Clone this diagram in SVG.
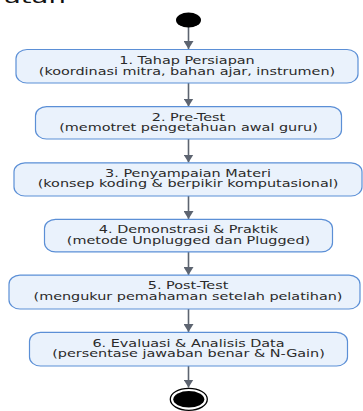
<svg xmlns="http://www.w3.org/2000/svg" width="363" height="411" viewBox="0 0 363 411">
<style>
.box{fill:#eaf2fc;stroke:#5b8fd6;stroke-width:1.2}
.t{font-family:"DejaVu Sans",sans-serif;font-size:14.4px;fill:#2a2a2a;text-anchor:middle}
.c{stroke:#5d6470;stroke-width:1.6;fill:none}
</style>
<defs>
<marker id="ah" viewBox="0 0 8 10" refX="8" refY="5" markerWidth="8" markerHeight="10" markerUnits="userSpaceOnUse" orient="auto">
<path d="M0,0 L8,5 L0,10 Z" fill="#5d6470"/>
</marker>
</defs>
<rect width="363" height="411" fill="#ffffff"/>
<text transform="translate(4,3) scale(1.1,0.7)" font-family="DejaVu Sans,sans-serif" font-size="25" fill="#111">atan</text>
<g id="connectors">
<line class="c" x1="188.5" y1="27" x2="188.5" y2="49" marker-end="url(#ah)"/>
<line class="c" x1="188.5" y1="83" x2="188.5" y2="106.5" marker-end="url(#ah)"/>
<line class="c" x1="188.5" y1="139" x2="188.5" y2="162.5" marker-end="url(#ah)"/>
<line class="c" x1="188.5" y1="196" x2="188.5" y2="219" marker-end="url(#ah)"/>
<line class="c" x1="188.5" y1="252" x2="188.5" y2="275" marker-end="url(#ah)"/>
<line class="c" x1="188.5" y1="309" x2="188.5" y2="332" marker-end="url(#ah)"/>
<line class="c" x1="188.5" y1="366" x2="188.5" y2="387.5" marker-end="url(#ah)"/>
</g>
<g id="start"><ellipse cx="188.5" cy="20" rx="12.5" ry="7.5" fill="#000"/></g>
<g id="n1">
<rect class="box" x="16" y="49.5" width="342" height="33.5" rx="11" ry="9"/>
<text class="t" transform="translate(187,64) scale(1,0.68)">1. Tahap Persiapan</text>
<text class="t" transform="translate(187,75) scale(1,0.68)">(koordinasi mitra, bahan ajar, instrumen)</text>
</g>
<g id="n2">
<rect class="box" x="35.5" y="106.7" width="306" height="32.3" rx="11" ry="9"/>
<text class="t" transform="translate(188.5,120.5) scale(1,0.68)">2. Pre-Test</text>
<text class="t" transform="translate(188.5,131.3) scale(1,0.68)">(memotret pengetahuan awal guru)</text>
</g>
<g id="n3">
<rect class="box" x="14" y="162.8" width="348" height="33.2" rx="11" ry="9"/>
<text class="t" transform="translate(188,176.8) scale(1,0.68)">3. Penyampaian Materi</text>
<text class="t" transform="translate(188,187.4) scale(1,0.68)">(konsep koding &amp; berpikir komputasional)</text>
</g>
<g id="n4">
<rect class="box" x="44.5" y="219.3" width="288" height="32.5" rx="11" ry="9"/>
<text class="t" transform="translate(188.5,233.3) scale(1,0.68)">4. Demonstrasi &amp; Praktik</text>
<text class="t" transform="translate(188.5,244) scale(1,0.68)">(metode Unplugged dan Plugged)</text>
</g>
<g id="n5">
<rect class="box" x="9" y="275.2" width="351" height="33.8" rx="11" ry="9"/>
<text class="t" transform="translate(188,289.3) scale(1,0.68)">5. Post-Test</text>
<text class="t" transform="translate(188,300) scale(1,0.68)">(mengukur pemahaman setelah pelatihan)</text>
</g>
<g id="n6">
<rect class="box" x="29.5" y="332.3" width="318" height="33.7" rx="11" ry="9"/>
<text class="t" transform="translate(188.5,346.5) scale(1,0.68)">6. Evaluasi &amp; Analisis Data</text>
<text class="t" transform="translate(188.5,357.2) scale(1,0.68)">(persentase jawaban benar &amp; N-Gain)</text>
</g>
<g id="end">
<ellipse cx="188.8" cy="399.3" rx="18.5" ry="11" fill="#fff" stroke="#000" stroke-width="1.3"/>
<ellipse cx="188.8" cy="399.3" rx="15.5" ry="8.3" fill="#000"/>
</g>
</svg>
